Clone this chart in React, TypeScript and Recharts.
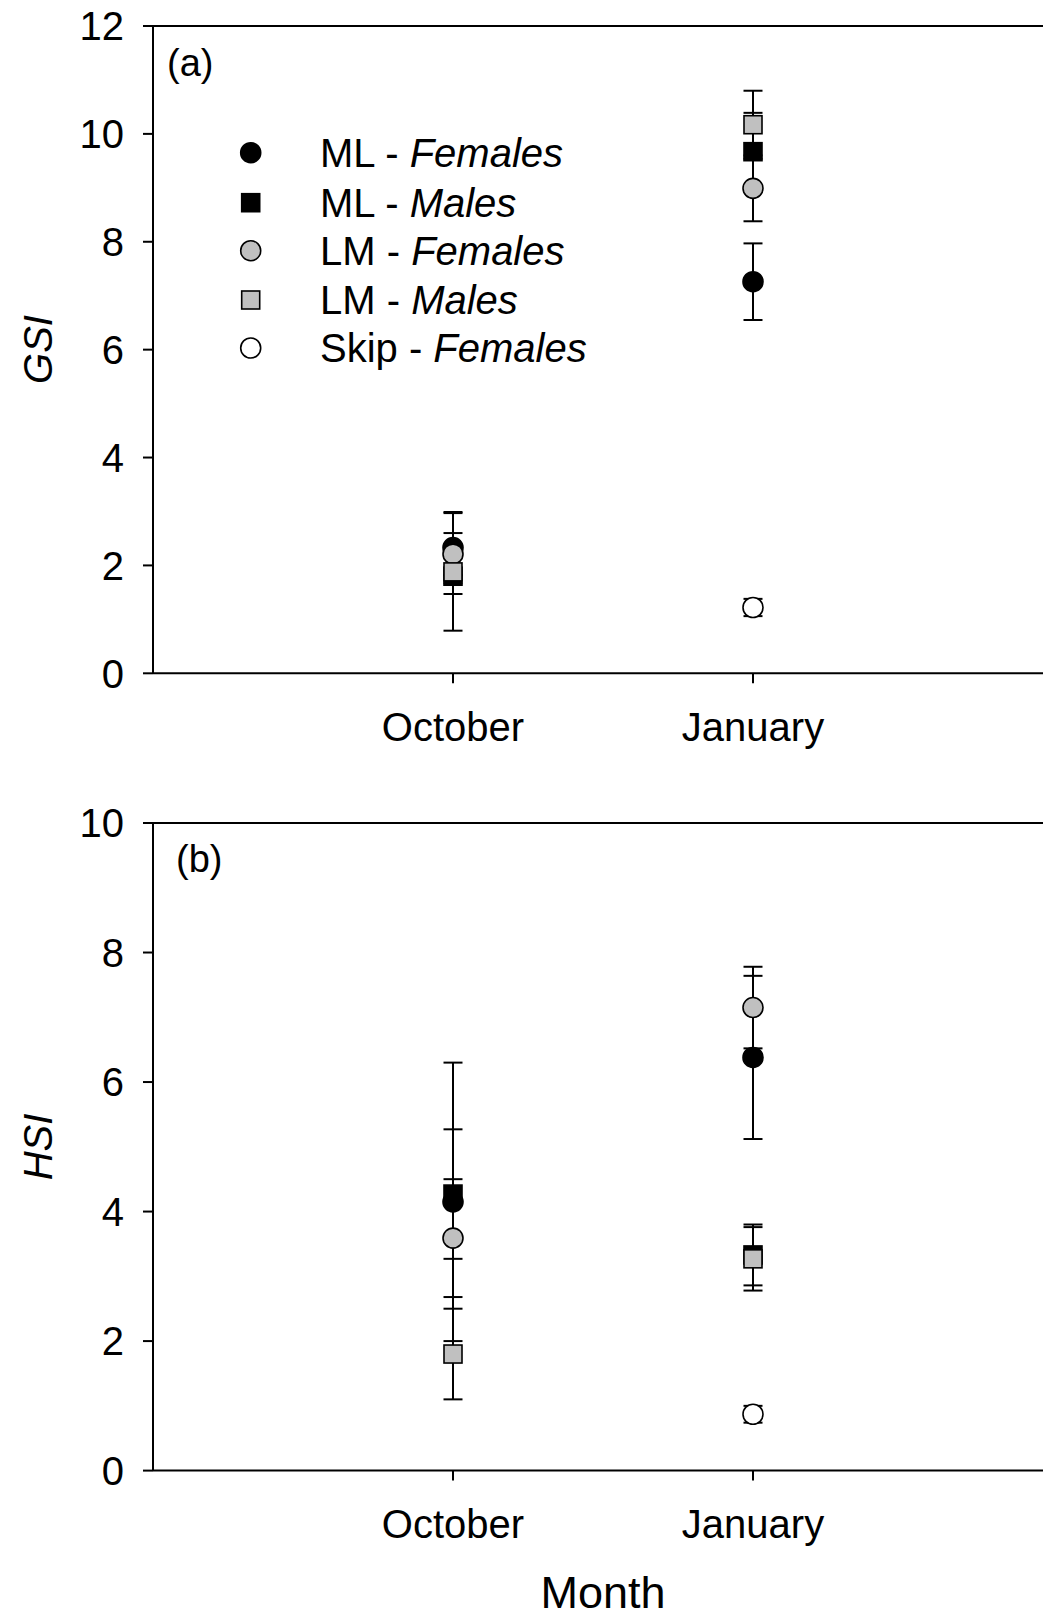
import React from 'react';
import { ScatterChart, Scatter, XAxis, YAxis, ErrorBar, ReferenceLine } from 'recharts';

// months on the x axis
const months = ['October', 'January'];

// GSI (panel a), mean and error per month
const mlFemGsi = [2.33, 7.26];
const mlFemGsiErr = [0.66, 0.71];
const mlMaleGsi = [1.8, 9.67];
const mlMaleGsiErr = [0.33, 0.72];
const lmFemGsi = [2.21, 8.99];
const lmFemGsiErr = [0.39, 0.61];
const lmMaleGsi = [1.88, 10.17];
const lmMaleGsiErr = [1.09, 0.63];
const skipFemGsi = [null, 1.22];
const skipFemGsiErr = [null, 0.16];

// HSI (panel b)
const mlFemHsi = [4.15, 6.38];
const mlFemHsiErr = [2.15, 1.26];
const mlMaleHsi = [4.27, 3.33];
const mlMaleHsiErr = [1.0, 0.47];
const lmFemHsi = [3.59, 7.15];
const lmFemHsiErr = [0.91, 0.63];
const lmMaleHsi = [1.8, 3.27];
const lmMaleHsiErr = [0.7, 0.49];
const skipFemHsi = [null, 0.87];
const skipFemHsiErr = [null, 0.13];

const gsiTicks = [0, 2, 4, 6, 8, 10, 12];
const hsiTicks = [0, 2, 4, 6, 8, 10];

const FONT = '"Liberation Sans", Arial, sans-serif';
const GRAY = '#c0c0c0';

type Row = { x: number; y: number; err: number };

const toRows = (vals: (number | null)[], errs: (number | null)[]): Row[] =>
  months
    .map((_, i) => ({ x: i + 1, y: vals[i] as number, err: errs[i] as number }))
    .filter((r) => r.y != null);

const series = [
  { group: 'ML', sex: 'Females', shape: 'circle', fill: '#000', gsi: [mlFemGsi, mlFemGsiErr], hsi: [mlFemHsi, mlFemHsiErr] },
  { group: 'ML', sex: 'Males', shape: 'square', fill: '#000', gsi: [mlMaleGsi, mlMaleGsiErr], hsi: [mlMaleHsi, mlMaleHsiErr] },
  { group: 'LM', sex: 'Females', shape: 'circle', fill: GRAY, gsi: [lmFemGsi, lmFemGsiErr], hsi: [lmFemHsi, lmFemHsiErr] },
  { group: 'LM', sex: 'Males', shape: 'square', fill: GRAY, gsi: [lmMaleGsi, lmMaleGsiErr], hsi: [lmMaleHsi, lmMaleHsiErr] },
  { group: 'Skip', sex: 'Females', shape: 'circle', fill: '#fff', gsi: [skipFemGsi, skipFemGsiErr], hsi: [skipFemHsi, skipFemHsiErr] },
];

const Marker = ({ cx, cy, shape, fill, r = 10, half = 9 }: any) =>
  shape === 'circle' ? (
    <circle cx={cx} cy={cy} r={r} fill={fill} stroke="#000" strokeWidth={1.6} />
  ) : (
    <rect x={cx - half} y={cy - half} width={half * 2} height={half * 2} fill={fill} stroke="#000" strokeWidth={1.6} />
  );

const axisLine = { stroke: '#000', strokeWidth: 2 };
const tickStyle = { fill: '#000', fontSize: 40, fontFamily: FONT };

interface PanelProps {
  metric: 'gsi' | 'hsi';
  yMax: number;
  ticks: number[];
  height: number;
  top: number;
  xAxisHeight: number;
}

const Panel: React.FC<PanelProps> = ({ metric, yMax, ticks, height, top, xAxisHeight }) => (
  <ScatterChart width={1060} height={height} margin={{ top, right: 7, bottom: 0, left: 0 }}>
    <XAxis
      type="number"
      dataKey="x"
      domain={[0, 3]}
      ticks={[1, 2]}
      tickFormatter={(v) => months[v - 1]}
      height={xAxisHeight}
      axisLine={axisLine}
      tickLine={axisLine}
      tickSize={10}
      tickMargin={29}
      tick={tickStyle}
    />
    <YAxis
      type="number"
      dataKey="y"
      domain={[0, yMax]}
      ticks={ticks}
      width={153}
      axisLine={axisLine}
      tickLine={axisLine}
      tickSize={10}
      tickMargin={19}
      tick={tickStyle}
    />
    <ReferenceLine y={yMax} stroke="#000" strokeWidth={2} />
    {series.map((s) => (
      <Scatter
        key={s.group + s.sex}
        data={toRows(s[metric][0], s[metric][1])}
        isAnimationActive={false}
        shape={(p: any) => <Marker cx={p.cx} cy={p.cy} shape={s.shape} fill={s.fill} />}
      >
        <ErrorBar dataKey="err" direction="y" width={9.5} stroke="#000" strokeWidth={2} isAnimationActive={false} />
      </Scatter>
    ))}
  </ScatterChart>
);

const legendRows = [152.7, 202.7, 250.7, 300, 348];

export default function App() {
  return (
    <div style={{ position: 'absolute', left: 0, top: 0, width: 1043, height: 1619, overflow: 'hidden', background: '#fff', fontFamily: FONT }}>
      <div style={{ position: 'absolute', left: 0, top: 0 }}>
        <Panel metric="gsi" yMax={12} ticks={gsiTicks} height={760} top={26} xAxisHeight={86.7} />
      </div>
      <div style={{ position: 'absolute', left: 0, top: 780 }}>
        <Panel metric="hsi" yMax={10} ticks={hsiTicks} height={839} top={43} xAxisHeight={148.4} />
      </div>
      <svg width={1043} height={1619} style={{ position: 'absolute', left: 0, top: 0, pointerEvents: 'none' }} fontFamily={FONT}>
        <text x={167} y={76} fontSize={38}>(a)</text>
        <text x={176} y={872} fontSize={38}>(b)</text>
        <text transform="translate(52,349.5) rotate(-90)" textAnchor="middle" fontSize={40} fontStyle="italic">GSI</text>
        <text transform="translate(52,1147) rotate(-90)" textAnchor="middle" fontSize={40} fontStyle="italic">HSI</text>
        <text x={603} y={1608} textAnchor="middle" fontSize={45}>Month</text>
        {series.map((s, i) => (
          <g key={s.group + s.sex}>
            <Marker cx={250.7} cy={legendRows[i]} shape={s.shape} fill={s.fill} r={10} half={9} />
            <text x={320} y={legendRows[i] + 14} fontSize={40}>
              {`${s.group} - `}
              <tspan fontStyle="italic">{s.sex}</tspan>
            </text>
          </g>
        ))}
      </svg>
    </div>
  );
}
